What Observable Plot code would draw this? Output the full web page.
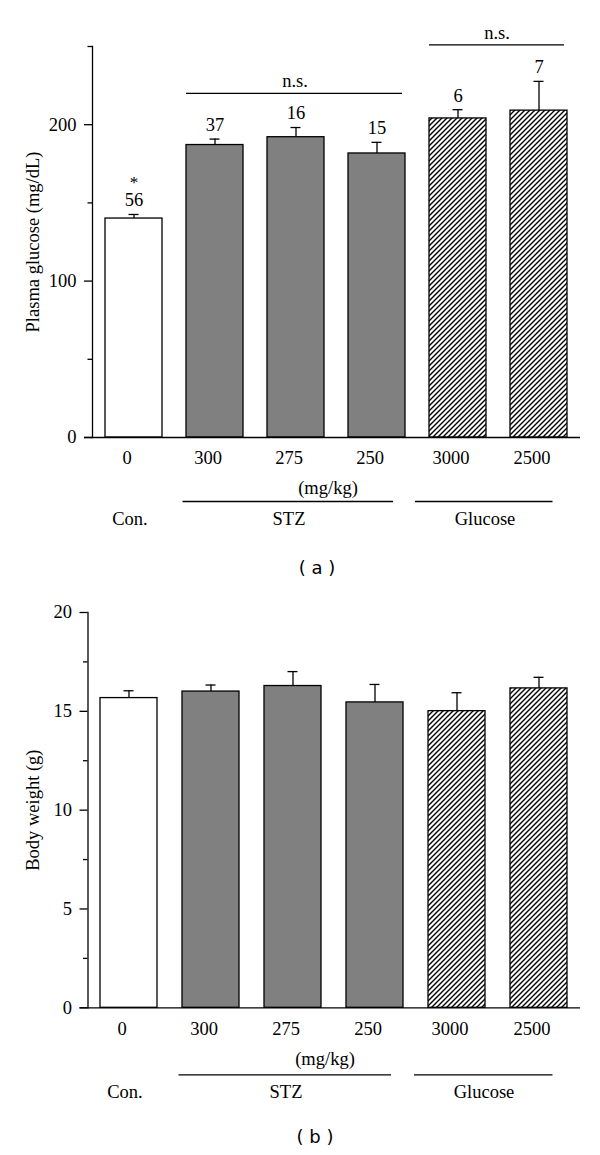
<!DOCTYPE html>
<html><head><meta charset="utf-8">
<script src="https://cdn.jsdelivr.net/npm/d3@7"></script>
<script src="https://cdn.jsdelivr.net/npm/@observablehq/plot@0.6"></script>
<style>
body{margin:0;background:#fff;}
#wrap{position:relative;width:600px;height:1155px;overflow:hidden;}
#wrap svg{position:absolute;left:0;display:block;}
#wrap svg text{font-family:"Liberation Serif","Times New Roman",serif;}
.cap{position:absolute;font-family:"DejaVu Sans",Verdana,sans-serif;font-size:18px;transform:translate(-50%,-50%);white-space:pre;color:#000;}
</style></head><body><div id="wrap"></div>
<script>
// ---- data ----
const doses = ["0", "300", "275", "250", "3000", "2500"];
const groups = ["Con.", "STZ", "STZ", "STZ", "Glucose", "Glucose"];
const glucoseMean = [140, 187, 192, 181.6, 204, 209];
const glucoseErr = [2.6, 3.8, 6.2, 7.1, 5.6, 18.7];
const glucoseN = ["56", "37", "16", "15", "6", "7"];
const glucoseStar = ["*", "", "", "", "", ""];
const weightMean = [15.67, 16.0, 16.28, 15.45, 15.01, 16.16];
const weightErr = [0.37, 0.33, 0.73, 0.91, 0.93, 0.56];
const glucoseMajorTicks = [0, 100, 200];
const glucoseMinorTicks = [50, 150, 250];
const weightMajorTicks = [0, 5, 10, 15, 20];
const weightMinorTicks = [2.5, 7.5, 12.5, 17.5];
const nsBrackets = [{from: "300", to: "250", y: 220, label: "n.s."}, {from: "3000", to: "2500", y: 251, label: "n.s."}];
const groupSpans = [{from: "300", to: "250", label: "STZ"}, {from: "3000", to: "2500", label: "Glucose"}];
const fills = {"Con.": "white", "STZ": "#808080"};

const SW = 1.3;
const FS = 18.5;
const serif = '"Liberation Serif","Times New Roman",serif';

function makeChart(cfg) {
  const data = doses.map((d, i) => ({
    dose: d, group: groups[i], mean: cfg.mean[i], top: cfg.mean[i] + cfg.err[i],
    n: cfg.n ? cfg.n[i] : "", star: cfg.star ? cfg.star[i] : ""
  }));
  const marks = [];
  for (const g of ["Con.", "STZ", "Glucose"]) {
    marks.push(Plot.barY(data.filter(d => d.group === g), {
      x: "dose", y: "mean", fill: g === "Glucose" ? `url(#${cfg.hatchId})` : fills[g],
      stroke: "black", strokeWidth: SW
    }));
  }
  marks.push(
    Plot.ruleX(data, {x: "dose", y1: "mean", y2: "top", strokeWidth: SW}),
    Plot.tickY(data, {x: "dose", y: "top", insetLeft: 23.5, insetRight: 23.5, strokeWidth: SW}),
    Plot.ruleY([0], {insetLeft: -8, strokeWidth: SW}),
    Plot.frame({anchor: "left", strokeWidth: SW}),
    Plot.axisY(cfg.major, {tickSize: 8, tickPadding: 8, strokeWidth: SW, fontSize: FS, label: null}),
    Plot.axisY(cfg.minor, {tickSize: 4.5, strokeWidth: SW, tickFormat: () => "", label: null}),
    Plot.text([cfg.yLabel], {frameAnchor: "left", textAnchor: "middle", rotate: -90, dx: cfg.yLabelDx, fontSize: FS}),
    // dose labels
    Plot.text(data, {x: "dose", y: 0, text: "dose", dy: 21, dx: -7, fontSize: FS}),
    // unit
    Plot.text(["(mg/kg)"], {x: () => "275", y: 0, dy: 51, dx: 32, fontSize: FS}),
    // Con. label
    Plot.text(["Con."], {x: () => "0", y: 0, dy: cfg.groupDy, dx: -4, fontSize: FS})
  );
  // group lines + labels
  marks.push(
    Plot.ruleY([groupSpans[0]], {y: 0, x1: "from", x2: "to", dy: cfg.lineDy, insetLeft: -3.5, insetRight: 12, strokeWidth: SW}),
    Plot.ruleY([groupSpans[1]], {y: 0, x1: "from", x2: "to", dy: cfg.lineDy, insetLeft: -14, insetRight: 14.5, strokeWidth: SW}),
    Plot.text([groupSpans[0]], {x: () => "275", y: 0, text: "label", dy: cfg.groupDy, dx: -7, fontSize: FS}),
    Plot.text([groupSpans[1]], {x: "from", y: 0, text: "label", dy: cfg.groupDy, dx: 27, fontSize: FS})
  );
  if (cfg.n) {
    marks.push(
      Plot.text(data, {x: "dose", y: "top", text: "n", dy: -14, fontSize: FS}),
      Plot.text(data, {x: "dose", y: "top", text: "star", dy: -32, fontSize: 17})
    );
  }
  if (cfg.ns) {
    marks.push(
      Plot.ruleY(cfg.ns, {y: "y", x1: "from", x2: "to", insetRight: 3, strokeWidth: SW}),
      Plot.text([cfg.ns[0]], {x: () => "275", y: "y", text: "label", dy: -12, dx: -1, fontSize: FS}),
      Plot.text([cfg.ns[1]], {x: "from", y: "y", text: "label", dy: -12, dx: 39, fontSize: FS})
    );
  }
  const svg = Plot.plot({
    width: 600,
    height: cfg.height,
    marginTop: cfg.marginTop,
    marginBottom: cfg.marginBottom,
    marginLeft: cfg.marginLeft,
    marginRight: 20,
    style: {fontFamily: serif, fontSize: FS + "px", color: "black", background: "white"},
    x: {domain: doses, paddingInner: 0.3, paddingOuter: 0.15, axis: null},
    y: {domain: [0, cfg.yMax]},
    marks
  });
  d3.select(svg).insert("defs", ":first-child").html(
    `<pattern id="${cfg.hatchId}" patternUnits="userSpaceOnUse" width="5" height="5">
       <rect width="5" height="5" fill="white"/>
       <path d="M-1,1 l2,-2 M0,5 l5,-5 M4,6 l2,-2" stroke="black" stroke-width="1.4"/>
     </pattern>`);
  return svg;
}

const wrap = document.getElementById("wrap");

const a = makeChart({
  mean: glucoseMean, err: glucoseErr, n: glucoseN, star: glucoseStar, ns: nsBrackets,
  yMax: 250, major: glucoseMajorTicks, minor: glucoseMinorTicks,
  yLabel: "Plasma glucose (mg/dL)", yLabelDx: -59,
  height: 545, marginTop: 46, marginBottom: 108, marginLeft: 92,
  hatchId: "hatchA", lineDy: 64, groupDy: 82
});
a.style.top = "0px";
wrap.appendChild(a);

const capA = document.createElement("div");
capA.className = "cap"; capA.textContent = "( a )";
capA.style.left = "317px"; capA.style.top = "567px";
wrap.appendChild(capA);

const b = makeChart({
  mean: weightMean, err: weightErr,
  yMax: 20, major: weightMajorTicks, minor: weightMinorTicks,
  yLabel: "Body weight (g)", yLabelDx: -54.5,
  height: 525, marginTop: 23, marginBottom: 106.7, marginLeft: 87.5,
  hatchId: "hatchB", lineDy: 67, groupDy: 84
});
b.style.top = "589px";
wrap.appendChild(b);

const capB = document.createElement("div");
capB.className = "cap"; capB.textContent = "( b )";
capB.style.left = "315px"; capB.style.top = "1136px";
wrap.appendChild(capB);
</script>
</body></html>
